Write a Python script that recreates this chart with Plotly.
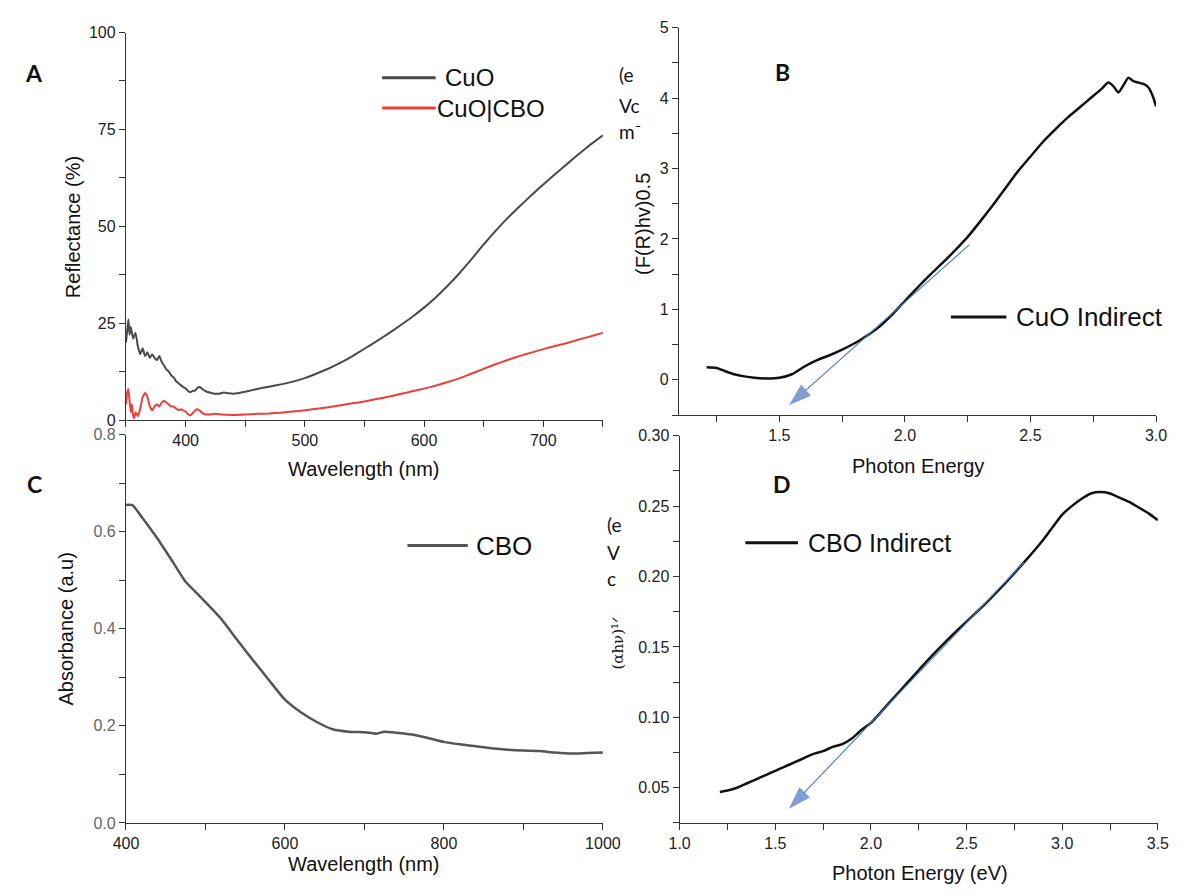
import plotly.graph_objects as go

# ---------------- data ----------------
# (A) diffuse reflectance
cuo_wl = [350, 351, 352, 353, 354, 356, 358, 360, 362, 364, 366, 368, 370, 372, 374, 376, 378,
          380, 382, 384, 386, 388, 390, 392, 394, 396, 398, 400, 402, 404, 406, 408, 410, 412,
          414, 416, 418, 420, 424, 428, 432, 436, 440, 445, 450, 460, 470, 480, 490, 500, 510,
          520, 530, 540, 550, 560, 570, 580, 590, 600, 610, 620, 630, 640, 650, 660, 670, 680,
          690, 700, 710, 720, 730, 740, 750]
cuo_refl = [20, 23, 26, 22, 24, 21, 22.5, 19, 17, 18.5, 16.5, 17.5, 16, 17, 16, 15.5, 16.5,
            15, 14, 13, 12.5, 11.5, 11, 10, 9.5, 9, 8.5, 8.2, 7.5, 7.2, 7.5, 7.6, 8.3, 8.5,
            8, 7.6, 7.3, 7.1, 6.8, 6.8, 7.1, 6.9, 6.8, 7.0, 7.3, 8.0, 8.6, 9.2, 9.9, 10.8, 12,
            13.3, 14.8, 16.5, 18.4, 20.3, 22.3, 24.4, 26.6, 29, 31.7, 34.7, 38.0, 41.6, 45.3,
            48.8, 52.1, 55.1, 58, 60.8, 63.5, 66.1, 68.7, 71.2, 73.5]

cbo_wl = [350, 351, 352, 353, 354, 355, 356, 357, 358, 360, 362, 364, 366, 368, 370, 372, 374,
          376, 378, 380, 382, 384, 386, 388, 390, 392, 394, 396, 398, 400, 402, 404, 406, 408,
          410, 412, 414, 416, 420, 425, 430, 440, 450, 460, 470, 480, 490, 500, 510, 520, 530,
          540, 550, 560, 570, 580, 590, 600, 610, 620, 630, 640, 650, 660, 670, 680, 690, 700,
          710, 720, 730, 740, 750]
cbo_refl = [4, 7, 8, 5, 2, 4, 1, 0.5, 2, 1, 3, 6, 7, 6, 3.5, 2.5, 3.5,
            4, 3.5, 4.5, 5, 4.5, 4, 3.5, 3.5, 3, 2.5, 2.8, 2.5, 2.2, 1.5, 1.2, 1.8, 2.5,
            2.8, 2.4, 1.8, 1.5, 1.4, 1.6, 1.4, 1.3, 1.4, 1.6, 1.7, 1.9, 2.2, 2.5, 2.9, 3.3, 3.8,
            4.3, 4.8, 5.4, 6.0, 6.7, 7.4, 8.1, 8.9, 9.8, 10.8, 12, 13.2, 14.4, 15.5, 16.5, 17.4,
            18.3, 19.1, 19.9, 20.8, 21.6, 22.5]

# (B) CuO indirect band gap plot
cuo_ev = [1.21, 1.25, 1.28, 1.32, 1.36, 1.40, 1.45, 1.50, 1.55, 1.60, 1.65, 1.70, 1.75, 1.80,
          1.85, 1.90, 1.95, 2.00, 2.05, 2.10, 2.15, 2.20, 2.25, 2.30, 2.35, 2.40, 2.45, 2.50,
          2.55, 2.60, 2.65, 2.70, 2.74, 2.78, 2.81, 2.83, 2.85, 2.87, 2.89, 2.91, 2.93, 2.95,
          2.97, 2.99, 3.00]
cuo_fr = [0.18, 0.17, 0.13, 0.08, 0.05, 0.03, 0.02, 0.03, 0.08, 0.19, 0.28, 0.35, 0.43, 0.52,
          0.63, 0.76, 0.93, 1.12, 1.31, 1.49, 1.66, 1.84, 2.03, 2.25, 2.48, 2.72, 2.96, 3.17,
          3.38, 3.56, 3.73, 3.88, 4.0, 4.12, 4.22, 4.17, 4.08, 4.18, 4.29, 4.24, 4.22, 4.2,
          4.15, 4.0, 3.88]
cuo_fit_ev = [2.257, 1.538]
cuo_fit_val = [1.92, -0.36]

# (C) CBO absorbance
abs_wl = [400, 408, 420, 440, 460, 475, 490, 500, 520, 540, 560, 580, 600, 620, 640, 660, 680,
          700, 715, 725, 740, 760, 780, 800, 820, 840, 860, 880, 900, 920, 940, 960, 980, 1000]
cbo_abs = [0.655, 0.655, 0.63, 0.585, 0.535, 0.497, 0.472, 0.455, 0.42, 0.377, 0.335, 0.294,
           0.254, 0.228, 0.208, 0.193, 0.188, 0.187, 0.184, 0.188, 0.186, 0.182, 0.175, 0.167,
           0.162, 0.158, 0.154, 0.151, 0.149, 0.148, 0.145, 0.143, 0.144, 0.145]

# (D) CBO indirect band gap plot
cbo_ev = [1.21, 1.25, 1.30, 1.35, 1.40, 1.45, 1.50, 1.55, 1.60, 1.65, 1.70, 1.75, 1.80, 1.85,
          1.90, 1.95, 2.00, 2.10, 2.20, 2.30, 2.40, 2.50, 2.60, 2.70, 2.80, 2.90, 3.00, 3.05,
          3.10, 3.15, 3.20, 3.25, 3.30, 3.35, 3.40, 3.45, 3.50]
cbo_ahv = [0.047, 0.048, 0.050, 0.053, 0.056, 0.059, 0.062, 0.065, 0.068, 0.071, 0.074, 0.076,
           0.079, 0.081, 0.085, 0.091, 0.096, 0.111, 0.126, 0.141, 0.155, 0.168, 0.181, 0.195,
           0.210, 0.226, 0.244, 0.250, 0.255, 0.259, 0.260, 0.259, 0.256, 0.253, 0.249, 0.245,
           0.240]
cbo_fit_ev = [2.80, 1.571]
cbo_fit_val = [0.21, 0.035]

# ---------------- layout helpers ----------------
W, H = 1189, 895
FONT = "Liberation Sans, Arial, sans-serif"
LETTER_FONT = "Lato, Open Sans, sans-serif"
FIT_BLUE = "#4a74c4"


def px(x):
    return x / W


def py(y):
    return 1 - y / H


def axis(domain, rng, anchor, dtick=None, tick0=None, minor=None, minor0=None, fmt=None,
         tickvals=None, tickcolor="#222"):
    d = dict(domain=domain, range=rng, anchor=anchor, showline=True, linecolor="#333",
             linewidth=1.3, ticks="outside", ticklen=6, tickwidth=1.3, tickcolor="#333",
             showgrid=False, zeroline=False, mirror=False,
             tickfont=dict(family=FONT, size=16, color=tickcolor))
    if tickvals is not None:
        d["tickmode"] = "array"
        d["tickvals"] = tickvals
    else:
        d["dtick"] = dtick
        if tick0 is not None:
            d["tick0"] = tick0
    if minor is not None:
        d["minor"] = dict(dtick=minor, tick0=minor0 if minor0 is not None else rng[0],
                          ticks="outside", ticklen=6, tickwidth=1.3, tickcolor="#333",
                          showgrid=False)
    if fmt:
        d["tickformat"] = fmt
    return d


fig = go.Figure()

fig.add_trace(go.Scatter(x=cuo_wl, y=cuo_refl, mode="lines", name="CuO",
                         line=dict(color="#4a4a4a", width=2, shape="spline", smoothing=0.3),
                         xaxis="x", yaxis="y"))
fig.add_trace(go.Scatter(x=cbo_wl, y=cbo_refl, mode="lines", name="CuO|CBO",
                         line=dict(color="#e8403b", width=2, shape="spline", smoothing=0.3),
                         xaxis="x", yaxis="y"))
fig.add_trace(go.Scatter(x=cuo_ev, y=cuo_fr, mode="lines", name="CuO Indirect",
                         line=dict(color="#111", width=2.5, shape="spline", smoothing=0.6),
                         xaxis="x2", yaxis="y2"))
fig.add_trace(go.Scatter(x=abs_wl, y=cbo_abs, mode="lines", name="CBO",
                         line=dict(color="#555", width=2.5, shape="spline", smoothing=0.6),
                         xaxis="x3", yaxis="y3"))
fig.add_trace(go.Scatter(x=cbo_ev, y=cbo_ahv, mode="lines", name="CBO Indirect",
                         line=dict(color="#111", width=2.5, shape="spline", smoothing=0.6),
                         xaxis="x4", yaxis="y4"))

# extrapolated linear fits, ending in an arrowhead
for xs, ys, xr, yr in [(cuo_fit_ev, cuo_fit_val, "x2", "y2"),
                       (cbo_fit_ev, cbo_fit_val, "x4", "y4")]:
    fig.add_trace(go.Scatter(x=xs, y=ys, mode="lines+markers", xaxis=xr, yaxis=yr,
                             line=dict(color=FIT_BLUE, width=1.1),
                             marker=dict(symbol=["circle", "arrow"], size=[0, 24],
                                         angleref="previous", color=FIT_BLUE,
                                         line=dict(width=0)),
                             showlegend=False, hoverinfo="skip"))

xa_dom = [px(116), px(605.7)]
xb_dom = [px(683.8), px(1173.6)]
xd_dom = [px(684.5), px(1175.5)]
ya_dom = [py(420), py(25)]
yb_dom = [py(415), py(20)]
yc_dom = [py(830.7), py(435)]
yd_dom = [py(830.7), py(436)]

fig.update_layout(
    width=W, height=H, margin=dict(l=0, r=0, t=0, b=0),
    paper_bgcolor="white", plot_bgcolor="white", showlegend=False,
    xaxis=axis(xa_dom, [350, 750], "y", dtick=100, tick0=400, minor=50, minor0=350),
    yaxis=axis(ya_dom, [0, 100], "x", dtick=25, tick0=0, minor=12.5, minor0=0),
    xaxis2=axis(xb_dom, [1.1, 3.0], "y2", tickvals=[1.5, 2.0, 2.5, 3.0], minor=0.25,
                minor0=1.0, fmt=".1f"),
    yaxis2=axis(yb_dom, [-0.5, 5], "x2", tickvals=[0, 1, 2, 3, 4, 5], minor=0.5, minor0=0),
    xaxis3=axis(xa_dom, [400, 1000], "y3", dtick=200, tick0=400, minor=100, minor0=400),
    yaxis3=axis(yc_dom, [0, 0.8], "x3", dtick=0.2, tick0=0, minor=0.1, minor0=0, fmt=".1f",
                tickcolor="#666"),
    xaxis4=axis(xd_dom, [1.0, 3.5], "y4", dtick=0.5, tick0=1.0, minor=0.25, minor0=1.0,
                fmt=".1f"),
    yaxis4=axis(yd_dom, [0.025, 0.30], "x4",
                tickvals=[0.05, 0.10, 0.15, 0.20, 0.25, 0.30], minor=0.025, minor0=0.025,
                fmt=".2f"),
)

ann = []


def text(x, y, s, size, angle=0, family=FONT, color="#111", xanchor="center", bold=False):
    if bold:
        s = "<b>" + s + "</b>"
    ann.append(dict(x=px(x), y=py(y), xref="paper", yref="paper", text=s, showarrow=False,
                    textangle=angle, xanchor=xanchor, yanchor="middle",
                    font=dict(family=family, size=size, color=color)))


# axis titles
text(61, 223, "Reflectance (%)", 20, angle=-90)
text(360, 470, "Wavelength (nm)", 20)
text(647, 220, "(F(R)hv)0.5", 20, angle=-90)
text(929, 467, "Photon Energy", 20)
text(54, 633, "Absorbance (a.u)", 20, angle=-90)
text(360, 873, "Wavelength (nm)", 20)
text(621, 647, "(αhν)¹ᐟ", 15, angle=-90, family="DejaVu Serif, serif")
text(931, 882, "Photon Energy (eV)", 20)

# panel letters
text(22, 66, "A", 23, family=LETTER_FONT, bold=True)
text(790, 65, "B", 23, family=LETTER_FONT, bold=True)
text(22, 485, "C", 23, family=LETTER_FONT, bold=True)
text(790, 485, "D", 23, family=LETTER_FONT, bold=True)

# unit fragments beside the band-gap plots
for s, y in [("(e", 68), ("Vc", 99), ("m⁻", 126)]:
    text(620, y, s, 19, family=LETTER_FONT, xanchor="left")
for s, y in [("(e", 527), ("V", 555), ("c", 582)]:
    text(608, y, s, 19, family=LETTER_FONT, xanchor="left")

# legends: sample line + label
shapes = []


def legend(x0, x1, y, color, width, label, tx, size):
    shapes.append(dict(type="line", xref="paper", yref="paper", x0=px(x0), x1=px(x1),
                       y0=py(y), y1=py(y), line=dict(color=color, width=width)))
    text(tx, y, label, size, xanchor="left")


legend(379, 434, 71, "#4a4a4a", 3, "CuO", 441, 24)
legend(379, 434, 102, "#e8403b", 3, "CuO|CBO", 433, 24)
legend(963, 1020, 315, "#111", 3, "CuO Indirect", 1028, 26)
legend(405, 467, 548, "#555", 3, "CBO", 473, 26)
legend(752, 806, 545, "#111", 3, "CBO Indirect", 814, 25)

fig.update_layout(annotations=ann, shapes=shapes)
fig.write_html("out.html")
